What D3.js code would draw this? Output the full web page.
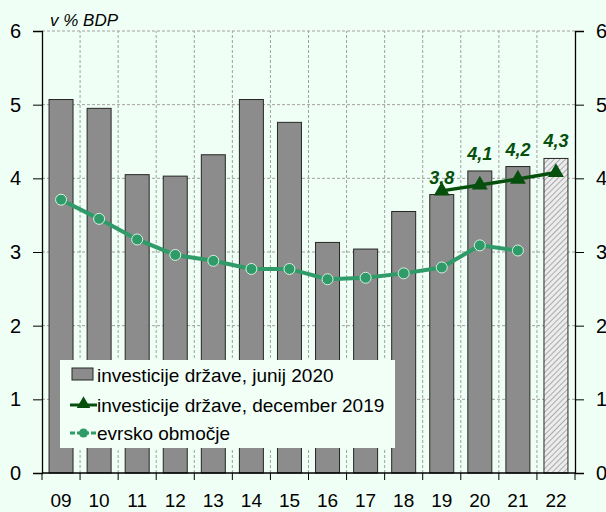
<!DOCTYPE html>
<html>
<head>
<meta charset="utf-8">
<script src="https://cdn.jsdelivr.net/npm/d3@7"></script>
<style>
  body { margin: 0; background: #effff5; }
  svg { display: block; font-family: "Liberation Sans", Arial, sans-serif; }
</style>
</head>
<body>
<div id="chart"></div>
<script>
// data
const years = ["09", "10", "11", "12", "13", "14", "15", "16", "17", "18", "19", "20", "21", "22"];
const govJune2020 = [5.07, 4.95, 4.05, 4.03, 4.32, 5.07, 4.76, 3.13, 3.04, 3.55, 3.78, 4.10, 4.16, 4.27];
const govDec2019Years = ["19", "20", "21", "22"];
const govDec2019 = [3.83, 3.91, 3.99, 4.08];
const euroArea = [3.71, 3.45, 3.17, 2.96, 2.88, 2.77, 2.77, 2.63, 2.65, 2.71, 2.79, 3.09, 3.02];
const labelYears = ["19", "20", "21", "22"];
const labelTexts = ["3,8", "4,1", "4,2", "4,3"];
const yTicks = [0, 1, 2, 3, 4, 5, 6];
const legendNames = ["investicije države, junij 2020", "investicije države, december 2019", "evrsko območje"];

const width = 606, height = 512;
const margin = {top: 31, right: 31, bottom: 39, left: 42};

const svg = d3.select("#chart").append("svg")
    .attr("width", width)
    .attr("height", height);

svg.append("rect").attr("width", width).attr("height", height).attr("fill", "#effff5");

// hatch pattern for forecast bar
const defs = svg.append("defs");
const pat = defs.append("pattern")
    .attr("id", "hatch")
    .attr("patternUnits", "userSpaceOnUse")
    .attr("width", 4).attr("height", 4)
    .attr("patternTransform", "rotate(45)");
pat.append("rect").attr("width", 4).attr("height", 4).attr("fill", "#ececec");
pat.append("line").attr("x1", 0).attr("y1", 0).attr("x2", 0).attr("y2", 4)
    .attr("stroke", "#9a9a9a").attr("stroke-width", 1.6);

// scales
const x = d3.scaleBand()
    .domain(years)
    .range([margin.left, width - margin.right])
    .padding(0);

const y = d3.scaleLinear()
    .domain([0, 6])
    .range([height - margin.bottom, margin.top]);

const barW = x.bandwidth() * 0.63;
const cx = d => x(d) + x.bandwidth() / 2;

// grid lines
svg.append("g").selectAll("line.hg")
    .data(yTicks.slice(1))
    .enter().append("line")
    .attr("x1", margin.left).attr("x2", width - margin.right)
    .attr("y1", d => y(d)).attr("y2", d => y(d))
    .attr("stroke", "#a0a0a0")
    .attr("stroke-dasharray", "3,2");

svg.append("g").selectAll("line.vg")
    .data(years.slice(1))
    .enter().append("line")
    .attr("x1", d => x(d)).attr("x2", d => x(d))
    .attr("y1", y(0)).attr("y2", y(6))
    .attr("stroke", "#a0a0a0")
    .attr("stroke-dasharray", "3,2");

// bars
svg.append("g").selectAll("rect")
    .data(years.map((d, i) => ({year: d, value: govJune2020[i]})))
    .enter().append("rect")
    .attr("x", d => cx(d.year) - barW / 2)
    .attr("y", d => y(d.value))
    .attr("width", barW)
    .attr("height", d => y(0) - y(d.value))
    .attr("fill", d => d.year === "22" ? "url(#hatch)" : "#8c8c8c")
    .attr("stroke", "#262626")
    .attr("stroke-width", 1);

// axes
const yLeft = d3.axisLeft(y).tickValues(yTicks).tickFormat(d3.format("d")).tickSize(9).tickPadding(12);
const yRight = d3.axisRight(y).tickValues(yTicks).tickFormat(d3.format("d")).tickSize(9).tickPadding(12);

const gl = svg.append("g").attr("transform", `translate(${margin.left},0)`).call(yLeft);
const gr = svg.append("g").attr("transform", `translate(${width - margin.right},0)`).call(yRight);
[gl, gr].forEach(g => {
    g.attr("font-family", "'Liberation Sans', Arial, sans-serif");
    g.select(".domain").attr("stroke", "#000").attr("stroke-width", 1.3);
    g.selectAll(".tick line").attr("stroke", "#000");
    g.selectAll("text").attr("font-size", 20).attr("fill", "#000");
});

// x axis: ticks at category boundaries
const gx = svg.append("g");
gx.append("line")
    .attr("x1", margin.left).attr("x2", width - margin.right)
    .attr("y1", y(0)).attr("y2", y(0))
    .attr("stroke", "#000").attr("stroke-width", 1.3);
gx.selectAll("line.tk")
    .data(years.concat(["end"]))
    .enter().append("line")
    .attr("x1", (d, i) => i < years.length ? x(d) : x(years[years.length - 1]) + x.bandwidth())
    .attr("x2", (d, i) => i < years.length ? x(d) : x(years[years.length - 1]) + x.bandwidth())
    .attr("y1", y(0)).attr("y2", y(0) + 7)
    .attr("stroke", "#000");
gx.selectAll("text")
    .data(years)
    .enter().append("text")
    .attr("x", d => cx(d))
    .attr("y", y(0) + 34)
    .attr("text-anchor", "middle")
    .attr("font-size", 19)
    .attr("fill", "#000")
    .text(d => d);

// euro area line
const euroColor = "#2e9b68";
const euroData = euroArea.map((v, i) => ({year: years[i], value: v}));
svg.append("path")
    .datum(euroData)
    .attr("fill", "none")
    .attr("stroke", euroColor)
    .attr("stroke-width", 4)
    .attr("d", d3.line().x(d => cx(d.year)).y(d => y(d.value)));
svg.append("g").selectAll("circle")
    .data(euroData)
    .enter().append("circle")
    .attr("cx", d => cx(d.year))
    .attr("cy", d => y(d.value))
    .attr("r", 5.5)
    .attr("fill", euroColor)
    .attr("stroke", "#d8f0e0")
    .attr("stroke-width", 1);

// december 2019 line
const decColor = "#064f0d";
const decData = govDec2019.map((v, i) => ({year: govDec2019Years[i], value: v}));
svg.append("path")
    .datum(decData)
    .attr("fill", "none")
    .attr("stroke", decColor)
    .attr("stroke-width", 3.5)
    .attr("d", d3.line().x(d => cx(d.year)).y(d => y(d.value)));
svg.append("g").selectAll("path")
    .data(decData)
    .enter().append("path")
    .attr("transform", d => `translate(${cx(d.year)},${y(d.value)})`)
    .attr("d", d3.symbol(d3.symbolTriangle, 110))
    .attr("fill", decColor);

// value labels
svg.append("g").selectAll("text")
    .data(labelYears.map((d, i) => ({year: d, text: labelTexts[i], value: govJune2020[years.indexOf(d)]})))
    .enter().append("text")
    .attr("x", d => cx(d.year))
    .attr("y", d => y(d.value) - 11)
    .attr("text-anchor", "middle")
    .attr("font-size", 18)
    .attr("font-weight", "bold")
    .attr("font-style", "italic")
    .attr("fill", decColor)
    .text(d => d.text);

// unit label
svg.append("text")
    .attr("x", 50).attr("y", 26)
    .attr("font-size", 17)
    .attr("font-style", "italic")
    .attr("fill", "#000")
    .text("v % BDP");

// legend
const lg = svg.append("g").attr("transform", "translate(60,360)");
lg.append("rect").attr("width", 335).attr("height", 88).attr("fill", "#f2fff7");
const rowY = [15, 45, 73];
lg.append("rect").attr("x", 12).attr("y", rowY[0] - 7).attr("width", 21).attr("height", 12)
    .attr("fill", "#8c8c8c").attr("stroke", "#262626");
lg.append("line").attr("x1", 10).attr("x2", 37).attr("y1", rowY[1]).attr("y2", rowY[1])
    .attr("stroke", decColor).attr("stroke-width", 3);
lg.append("path").attr("transform", `translate(23.5,${rowY[1] - 1})`)
    .attr("d", d3.symbol(d3.symbolTriangle, 80)).attr("fill", decColor);
lg.append("line").attr("x1", 10).attr("x2", 37).attr("y1", rowY[2]).attr("y2", rowY[2])
    .attr("stroke", euroColor).attr("stroke-width", 3).attr("stroke-dasharray", "5,2");
lg.append("circle").attr("cx", 23.5).attr("cy", rowY[2]).attr("r", 4.5).attr("fill", euroColor);
lg.selectAll("text.lt")
    .data(legendNames)
    .enter().append("text")
    .attr("x", 37)
    .attr("y", (d, i) => rowY[i] + 7)
    .attr("font-size", 19)
    .attr("fill", "#000")
    .text(d => d);
</script>
</body>
</html>
